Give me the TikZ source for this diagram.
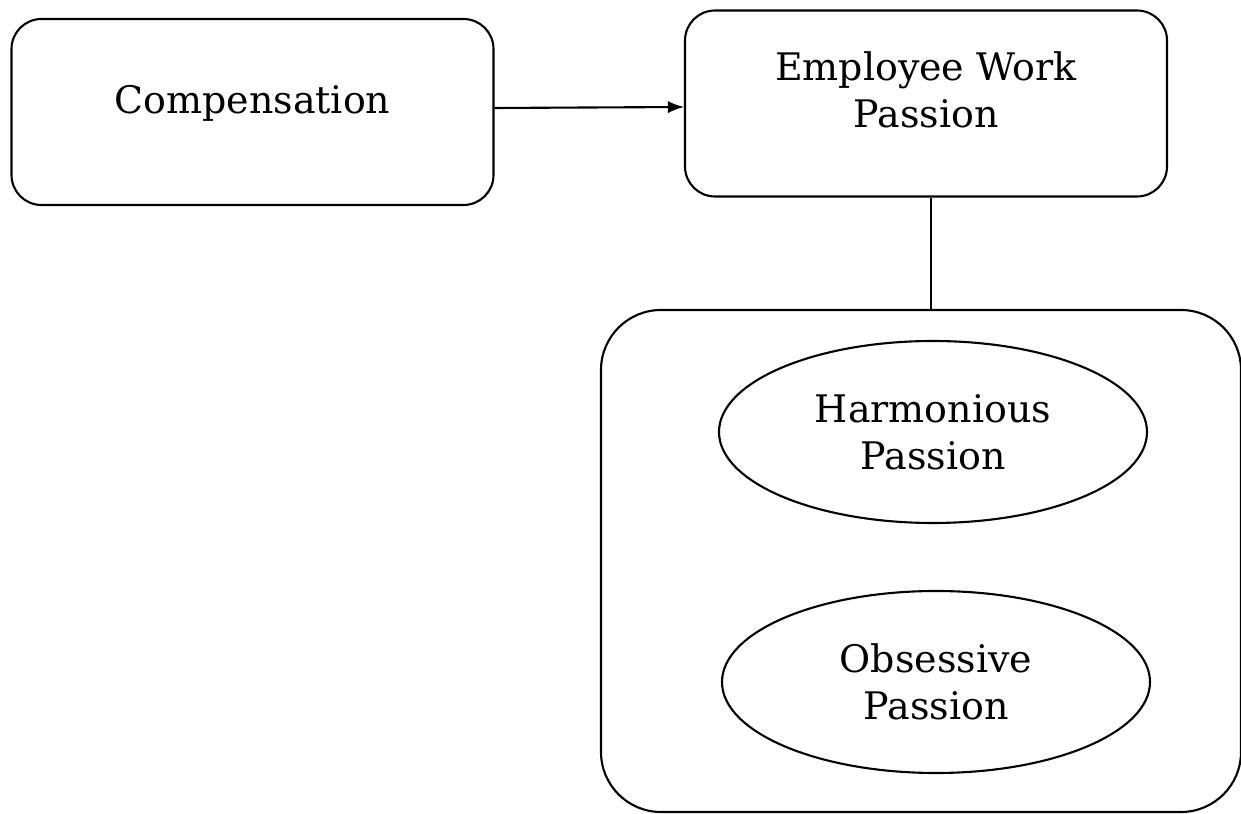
\documentclass[tikz,border=0pt]{standalone}
\usepackage{fontspec}
\setmainfont{DejaVu Serif}
\usetikzlibrary{shapes.geometric}
\tikzset {boite/.style={draw, line width=0.6pt, rounded corners=0.3cm,
                        minimum width=4.82cm, minimum height=1.86cm,
                        align=center, font=\fontsize{10.8}{13.3}\selectfont}}
\tikzset {passion/.style={draw, line width=0.6pt, ellipse, inner sep=0pt,
                          minimum width=4.28cm, minimum height=1.82cm,
                          align=center, font=\fontsize{10.8}{13.3}\selectfont}}
\tikzset {groupe/.style={draw, line width=0.6pt, rounded corners=0.6cm,
                         minimum width=6.40cm, minimum height=5.02cm}}

\begin{document}
\begin{tikzpicture}
  \useasboundingbox (0,0) rectangle (12.41,8.14);
  \node (comp) [boite, text depth=0.26cm] at (2.525,7.02) {Compensation};
  \node (ewp) [boite, text depth=0.28cm] at (9.26,7.105) {Employee Work\\Passion};
  \node (grp) [groupe] at (9.21,2.53) {};
  \node (harm) [passion] at (9.33,3.82) {Harmonious\\Passion};
  \node (obs) [passion] at (9.36,1.32) {Obsessive\\Passion};
  \draw [line width=0.6pt, -latex] ([yshift=0.04cm]comp.east) -- ([yshift=-0.035cm]ewp.west);
  \draw [line width=0.6pt] ([xshift=0.05cm]ewp.south) -- ([xshift=0.05cm]ewp.south |- grp.north);
\end{tikzpicture}
\end{document}
